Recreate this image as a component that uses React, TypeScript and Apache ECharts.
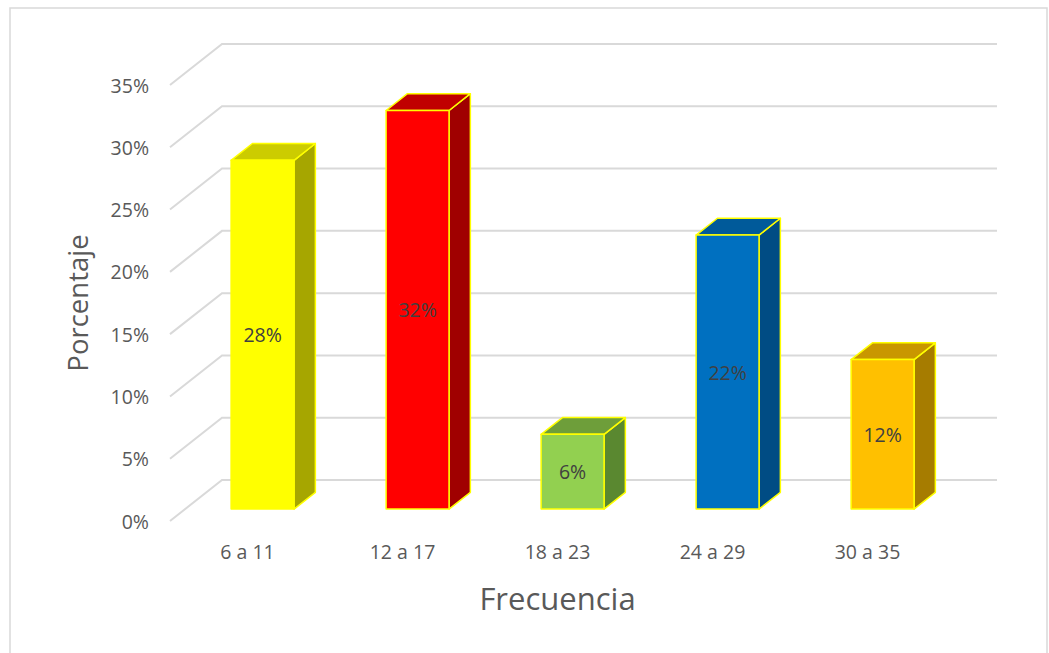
import React, { useEffect, useRef } from "react";
import * as echarts from "echarts";

const categories = ["6 a 11", "12 a 17", "18 a 23", "24 a 29", "30 a 35"];
const values = [28, 32, 6, 22, 12];
const yTicks = [0, 5, 10, 15, 20, 25, 30, 35];
const frontColors = ["#FFFF00", "#FF0000", "#92D050", "#0070C0", "#FFC000"];
const topColors = ["#CCCC00", "#C00000", "#6E9E3A", "#005A9A", "#C99700"];
const sideColors = ["#A6A600", "#A00000", "#5A8830", "#004C84", "#A67C00"];

const FLOOR_DX = 52;
const FLOOR_DY = 41;
const BAR_FRONT = 0.29;
const BAR_DEPTH = 0.41;
const BAR_RATIO = 0.406;
const FONT = "'Open Sans', sans-serif";

export default function App() {
  const ref = useRef<HTMLDivElement>(null);
  useEffect(() => {
    document.body.style.margin = "0";
    const chart = echarts.init(ref.current!, null, { renderer: "svg" });
    chart.setOption({
      animation: false,
      backgroundColor: "#ffffff",
      textStyle: { fontFamily: FONT },
      graphic: [
        {
          type: "rect",
          shape: { x: 10, y: 8, width: 1037, height: 680 },
          style: { fill: "none", stroke: "#D9D9D9", lineWidth: 1.5 },
          silent: true,
        },
      ],
      grid: { left: 170, top: 85, width: 775, height: 436 },
      xAxis: {
        type: "category",
        data: categories,
        axisLine: { show: false },
        axisTick: { show: false },
        axisLabel: { color: "#595959", fontSize: 19.5, margin: 20, fontFamily: FONT },
        name: "Frecuencia",
        nameLocation: "middle",
        nameGap: 61,
        nameTextStyle: { color: "#595959", fontSize: 31, fontFamily: FONT },
      },
      yAxis: {
        type: "value",
        min: 0,
        max: 35,
        interval: 5,
        axisLine: { show: false },
        axisTick: { show: false },
        splitLine: { show: false },
        axisLabel: { color: "#595959", fontSize: 19.5, margin: 21, formatter: "{value}%", fontFamily: FONT },
        name: "Porcentaje",
        nameLocation: "middle",
        nameGap: 79,
        nameRotate: 90,
        nameTextStyle: { color: "#595959", fontSize: 27.5, fontFamily: FONT },
      },
      series: [
        {
          type: "custom",
          silent: true,
          z: 1,
          data: yTicks.map((t) => [0, t]),
          renderItem: (params: any, api: any) => {
            const cs = params.coordSys;
            const y = api.coord([0, api.value(1)])[1];
            return {
              type: "polyline",
              shape: {
                points: [
                  [cs.x, y],
                  [cs.x + FLOOR_DX, y - FLOOR_DY],
                  [cs.x + cs.width + FLOOR_DX, y - FLOOR_DY],
                ],
              },
              style: { stroke: "#D9D9D9", lineWidth: 2, fill: "none" },
            };
          },
        },
        {
          type: "custom",
          z: 2,
          data: values.map((v, i) => [i, v]),
          renderItem: (params: any, api: any) => {
            const i = api.value(0);
            const v = api.value(1);
            const base = api.coord([i, 0]);
            const top = api.coord([i, v]);
            const catW = api.size([1, 0])[0];
            const hw = (catW * BAR_RATIO) / 2;
            const cx = base[0] + FLOOR_DX * BAR_FRONT;
            const by = base[1] - FLOOR_DY * BAR_FRONT;
            const ty = top[1] - FLOOR_DY * BAR_FRONT;
            const x1 = cx - hw;
            const x2 = cx + hw;
            const ddx = FLOOR_DX * BAR_DEPTH;
            const ddy = FLOOR_DY * BAR_DEPTH;
            const stroke = { stroke: "#FFFF00", lineWidth: 1.5, lineJoin: "round" };
            return {
              type: "group",
              children: [
                {
                  type: "polygon",
                  shape: { points: [[x2, ty], [x2 + ddx, ty - ddy], [x2 + ddx, by - ddy], [x2, by]] },
                  style: { fill: sideColors[i], ...stroke },
                },
                {
                  type: "polygon",
                  shape: { points: [[x1, ty], [x1 + ddx, ty - ddy], [x2 + ddx, ty - ddy], [x2, ty]] },
                  style: { fill: topColors[i], ...stroke },
                },
                {
                  type: "rect",
                  shape: { x: x1, y: ty, width: x2 - x1, height: by - ty },
                  style: { fill: frontColors[i], ...stroke },
                },
                {
                  type: "text",
                  x: cx,
                  y: (ty + by) / 2,
                  style: {
                    text: v + "%",
                    fill: "#404040",
                    fontSize: 19.5,
                    fontFamily: FONT,
                    align: "center",
                    verticalAlign: "middle",
                  },
                },
              ],
            };
          },
        },
      ],
    });
    return () => chart.dispose();
  }, []);
  return <div ref={ref} style={{ width: 1049, height: 653 }} />;
}
